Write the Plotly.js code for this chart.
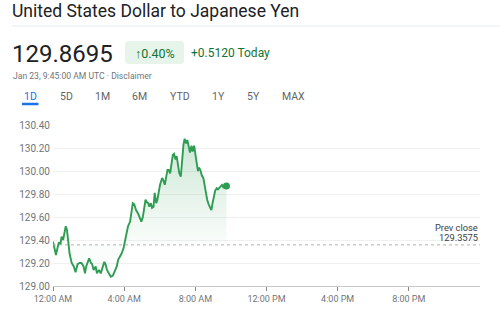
<!DOCTYPE html>
<html>
<head>
<meta charset="utf-8">
<script src="https://cdn.plot.ly/plotly-3.0.1.min.js"></script>
<style>html,body{margin:0;padding:0;background:#fff;}#chart{width:500px;height:310px;}</style>
</head>
<body>
<div id="chart"></div>
<script>
// ---- data ----
const times = ["00:00","00:04","00:10","00:16","00:20","00:25","00:29","00:34","00:38","00:43","00:47","00:52","00:56","01:03","01:10","01:16","01:23","01:30","01:36","01:43","01:48","01:52","01:57","02:02","02:08","02:12","02:17","02:24","02:28","02:35","02:41","02:48","02:53","02:57","03:02","03:08","03:15","03:22","03:29","03:35","03:40","03:44","03:51","03:58","04:02","04:07","04:13","04:20","04:25","04:29","04:34","04:40","04:47","04:54","04:58","05:03","05:07","05:12","05:16","05:21","05:25","05:30","05:34","05:39","05:43","05:48","05:52","05:57","06:01","06:08","06:12","06:17","06:21","06:26","06:30","06:35","06:39","06:44","06:48","06:53","06:57","07:02","07:06","07:11","07:15","07:20","07:24","07:29","07:33","07:38","07:42","07:47","07:51","07:56","08:00","08:04","08:09","08:13","08:18","08:22","08:27","08:31","08:36","08:40","08:45","08:49","08:54","08:58","09:03","09:07","09:12","09:16","09:23","09:30","09:34","09:39","09:45"];
const rates = [129.385,129.34,129.27,129.34,129.38,129.36,129.43,129.40,129.47,129.52,129.49,129.33,129.28,129.20,129.17,129.12,129.19,129.20,129.20,129.17,129.11,129.17,129.20,129.24,129.20,129.19,129.14,129.17,129.11,129.14,129.11,129.17,129.21,129.19,129.14,129.11,129.08,129.09,129.14,129.17,129.23,129.25,129.28,129.33,129.38,129.44,129.52,129.56,129.65,129.72,129.71,129.66,129.63,129.59,129.56,129.60,129.66,129.75,129.73,129.72,129.69,129.72,129.68,129.69,129.81,129.72,129.75,129.83,129.88,129.94,129.92,129.88,129.95,130.01,130.01,129.98,130.05,130.14,130.15,130.10,130.13,130.03,129.98,129.95,130.10,130.23,130.28,130.24,130.27,130.22,130.16,130.22,130.17,130.22,130.13,130.08,130.00,130.03,130.00,129.96,129.94,129.88,129.81,129.75,129.71,129.68,129.66,129.72,129.78,129.83,129.85,129.84,129.86,129.88,129.86,129.88,129.8695];
const prevClose = 129.3575;
const day = "2023-01-23";
const xTickVals = ["00:00","04:00","08:00","12:00","16:00","20:00"];
const xTickText = ["12:00 AM","4:00 AM","8:00 AM","12:00 PM","4:00 PM","8:00 PM"];
const yTickVals = [129.0,129.2,129.4,129.6,129.8,130.0,130.2,130.4];
const yTickText = ["129.00","129.20","129.40","129.60","129.80","130.00","130.20","130.40"];
const title = "United States Dollar to Japanese Yen";
const price = "129.8695";
const pctChange = "↑0.40%";
const absChange = "+0.5120 Today";
const stamp = "Jan 23, 9:45:00 AM UTC · Disclaimer";
const tabs = ["1D","5D","1M","6M","YTD","1Y","5Y","MAX"];

// ---- layout helpers (pixel -> paper) ----
const W = 500, H = 310, ML = 53, MR = 20, MT = 125, MB = 24;
const PW = W - ML - MR, PH = H - MT - MB;
const px = x => (x - ML) / PW;
const py = y => (H - MB - y) / PH;

const xs = times.map(t => day + " " + t);
const green = "#2e9d52";

const traces = [
  { x: [xs[0], xs[xs.length-1]], y: [prevClose, prevClose], mode: "lines",
    line: {width: 0, color: "rgba(0,0,0,0)"}, hoverinfo: "skip", showlegend: false },
  { x: xs, y: rates, mode: "lines", line: {color: green, width: 1.9},
    fill: "tonexty",
    fillgradient: {type: "vertical", start: prevClose, stop: 130.28,
      colorscale: [[0, "rgba(46,157,82,0.02)"], [1, "rgba(46,157,82,0.24)"]]},
    showlegend: false },
  { x: [xs[xs.length-1]], y: [rates[rates.length-1]], mode: "markers",
    marker: {color: green, size: 7}, showlegend: false }
];

const tabX = [30, 66, 102, 139, 180, 218, 253, 293];
const annotations = [];
const txt = (text, x, y, size, color, xanchor, extra) => Object.assign({
  text, xref: "paper", yref: "paper", x: px(x), y: py(y), xanchor: xanchor || "left",
  yanchor: "middle", showarrow: false, font: {family: "Roboto, sans-serif", size, color}
}, extra || {});

annotations.push(txt(title, 10, 11, 17.5, "#202124"));
annotations.push(txt(price, 10, 54, 24, "#202124"));
annotations.push(txt(pctChange, 155, 53, 12.5, "#137333", "center"));
annotations.push(txt(absChange, 189, 53, 12, "#137333"));
annotations.push(txt(stamp, 11, 76, 8.6, "#70757a"));
tabs.forEach((t, i) => annotations.push(txt(t, tabX[i], 96, 10.5, i === 0 ? "#1a73e8" : "#5f6368", "center")));
annotations.push(txt("Prev close", 480, 227, 9.3, "#3c4043", "right"));
annotations.push(txt(prevClose.toFixed(4), 480, 237, 9.3, "#3c4043", "right"));

// rounded badge path
const bx0 = 125, bx1 = 184, by0 = 41, by1 = 64, r = 4;
const P = (x, y) => px(x) + "," + py(y);
const badge = "M" + P(bx0 + r, by0) + " L" + P(bx1 - r, by0) + " Q" + P(bx1, by0) + " " + P(bx1, by0 + r) +
  " L" + P(bx1, by1 - r) + " Q" + P(bx1, by1) + " " + P(bx1 - r, by1) +
  " L" + P(bx0 + r, by1) + " Q" + P(bx0, by1) + " " + P(bx0, by1 - r) +
  " L" + P(bx0, by0 + r) + " Q" + P(bx0, by0) + " " + P(bx0 + r, by0) + " Z";

const shapes = [
  {type: "line", xref: "paper", yref: "paper", x0: px(12), x1: px(500), y0: py(26), y1: py(26),
   line: {color: "#e8eaed", width: 1}},
  {type: "path", xref: "paper", yref: "paper", path: badge, fillcolor: "#e6f4ea", line: {width: 0}},
  {type: "line", xref: "paper", yref: "paper", x0: px(22), x1: px(38.5), y0: py(104), y1: py(104),
   line: {color: "#1a73e8", width: 2.5}},
  {type: "line", xref: "paper", yref: "y", x0: 0, x1: 1, y0: prevClose, y1: prevClose,
   line: {color: "#b0b0b0", width: 1, dash: "dot"}}
];

const layout = {
  width: W, height: H, margin: {l: ML, r: MR, t: MT, b: MB},
  paper_bgcolor: "#fff", plot_bgcolor: "#fff", showlegend: false,
  font: {family: "Roboto, sans-serif"},
  xaxis: {type: "date", range: [day + " 00:00", "2023-01-24 00:00"],
    tickvals: xTickVals.map(t => day + " " + t), ticktext: xTickText,
    showgrid: false, zeroline: false, showline: true, linecolor: "#c8c8c8", linewidth: 1,
    ticks: "outside", ticklen: 4, tickcolor: "#888", tickwidth: 1,
    tickfont: {size: 9, color: "#70757a"}, fixedrange: true},
  yaxis: {range: [129.0, 130.4], tickvals: yTickVals, ticktext: yTickText,
    showgrid: true, gridcolor: "#f0f0f0", zeroline: false, showline: false, ticks: "",
    tickfont: {size: 10, color: "#70757a"}, ticklabelstandoff: 2, fixedrange: true},
  annotations, shapes
};

Plotly.newPlot("chart", traces, layout, {displayModeBar: false, staticPlot: true});
</script>
</body>
</html>
